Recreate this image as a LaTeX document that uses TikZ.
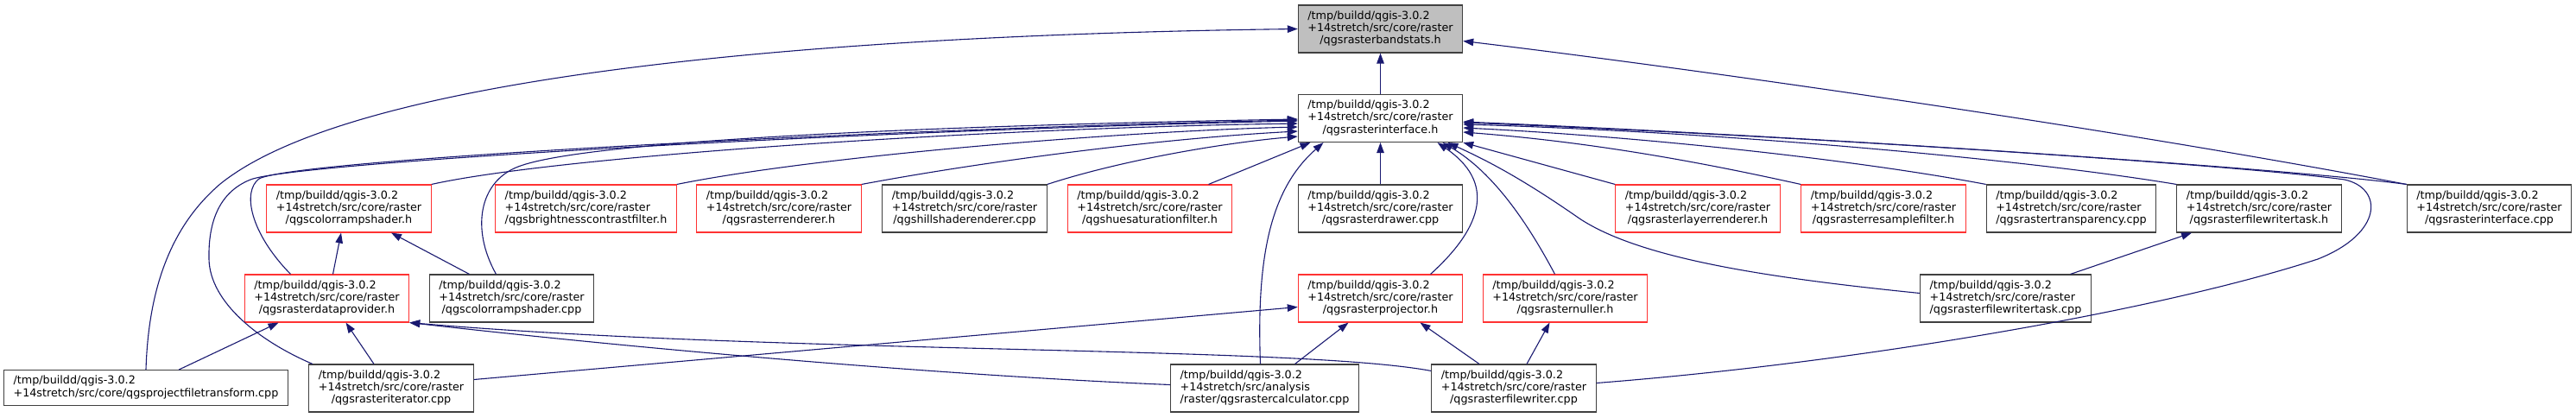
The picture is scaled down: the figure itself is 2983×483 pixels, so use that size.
\documentclass[tikz,border=0pt]{standalone}
\usepackage{fontspec}
\setmainfont{DejaVu Sans}
\usetikzlibrary{arrows.meta}
\definecolor{midblue}{RGB}{25,25,112}
\definecolor{nodeline}{RGB}{64,64,64}
\definecolor{truncred}{RGB}{255,50,50}
\definecolor{selgray}{RGB}{191,191,191}

% three-line doxygen label: two left lines, last one centred
\newcommand{\flab}[3]{\begin{tabular}{@{}l@{}}#1\\#2\\\multicolumn{1}{@{}c@{}}{#3}\end{tabular}}
\newcommand{\flabii}[2]{\begin{tabular}{@{}l@{}}#1\\\multicolumn{1}{@{}c@{}}{#2}\end{tabular}}
\newcommand{\tq}{/tmp/buildd/qgis-3.0.2}
\newcommand{\sr}{+14stretch/src/core/raster}

\tikzset{
  file/.style={draw=nodeline, line width=1.1pt, fill=white, inner xsep=11pt, inner ysep=6pt,
               font=\fontsize{12.75pt}{14.33pt}\selectfont},
  trunc/.style={file, draw=truncred},
  sel/.style={file, fill=selgray},
  incl/.style={draw=midblue, line width=1.1pt, -{Triangle[length=12pt,width=8.5pt]}}
}

\begin{document}
\begin{tikzpicture}[x=1pt,y=-1pt]
\useasboundingbox (0,0) rectangle (2983,483);

%---------------------------------------
% Files
%---------------------------------------
\node[sel] (bandstats) at (1598.5,33.5) {\flab{\tq}{\sr}{/qgsrasterbandstats.h}};
\node[file] (ifaceh) at (1598.5,137) {\flab{\tq}{\sr}{/qgsrasterinterface.h}};

% row 1
\node[trunc] (crsh)     at (404,241.5)    {\flab{\tq}{\sr}{/qgscolorrampshader.h}};
\node[trunc] (bcf)      at (678.5,241.5)  {\flab{\tq}{\sr}{/qgsbrightnesscontrastfilter.h}};
\node[trunc] (rrend)    at (902,241.5)    {\flab{\tq}{\sr}{/qgsrasterrenderer.h}};
\node[file]  (hill)     at (1117,241.5)   {\flab{\tq}{\sr}{/qgshillshaderenderer.cpp}};
\node[trunc] (hue)      at (1331.5,241.5) {\flab{\tq}{\sr}{/qgshuesaturationfilter.h}};
\node[file]  (drawer)   at (1598.5,241.5) {\flab{\tq}{\sr}{/qgsrasterdrawer.cpp}};
\node[trunc] (lrend)    at (1966,241.5)   {\flab{\tq}{\sr}{/qgsrasterlayerrenderer.h}};
\node[trunc] (resamp)   at (2181,241.5)   {\flab{\tq}{\sr}{/qgsrasterresamplefilter.h}};
\node[file]  (transp)   at (2398.5,241.5) {\flab{\tq}{\sr}{/qgsrastertransparency.cpp}};
\node[file]  (fwth)     at (2616,241.5)   {\flab{\tq}{\sr}{/qgsrasterfilewritertask.h}};
\node[file]  (ifacecpp) at (2882.5,241.5) {\flab{\tq}{\sr}{/qgsrasterinterface.cpp}};

% row 2
\node[trunc] (dprov)  at (378.5,345.5)  {\flab{\tq}{\sr}{/qgsrasterdataprovider.h}};
\node[file]  (crscpp) at (592.5,345.5)  {\flab{\tq}{\sr}{/qgscolorrampshader.cpp}};
\node[trunc] (proj)   at (1598.5,345.5) {\flab{\tq}{\sr}{/qgsrasterprojector.h}};
\node[trunc] (nuller) at (1812.5,345.5) {\flab{\tq}{\sr}{/qgsrasternuller.h}};
\node[file]  (fwtcpp) at (2322.5,345.5) {\flab{\tq}{\sr}{/qgsrasterfilewritertask.cpp}};

% row 3
\node[file] (pft)   at (169,449)    {\flabii{\tq}{+14stretch/src/core/qgsprojectfiletransform.cpp}};
\node[file] (iter)  at (453,449.5)  {\flab{\tq}{\sr}{/qgsrasteriterator.cpp}};
\node[file] (calc)  at (1464.5,449.5) {\flab{\tq}{+14stretch/src/analysis}{/raster/qgsrastercalculator.cpp}};
\node[file] (fwcpp) at (1753,449.5) {\flab{\tq}{\sr}{/qgsrasterfilewriter.cpp}};

%---------------------------------------
% Includes of qgsrasterbandstats.h
%---------------------------------------
\draw[incl] (ifaceh) -- (bandstats);
\draw[incl] (pft.north) .. controls (172,330) and (200,260) .. (255,213)
            .. controls (420,80) and (1000,40) .. (bandstats.west);
\draw[incl] (ifacecpp.north west) .. controls (2400,140) and (1900,72) .. ([yshift=-14pt]bandstats.east);

%---------------------------------------
% Includes of qgsrasterinterface.h
%---------------------------------------
% from the left
\draw[incl] ([xshift=-18pt]crscpp.north) .. controls (545,265) and (555,210) .. (600,193)
            .. controls (680,162) and (1100,145) .. ([yshift=-1pt]ifaceh.west);
\draw[incl] ([xshift=-42pt]dprov.north) .. controls (290,270) and (280,222) .. (300,207)
            .. controls (340,185) and (1000,150) .. ([yshift=-2pt]ifaceh.west);
\draw[incl] ([xshift=-91pt]iter.north) .. controls (300,395) and (243,350) .. (242,300)
            .. controls (241,255) and (255,222) .. (290,208)
            .. controls (340,188) and (1000,151) .. ([yshift=-3pt]ifaceh.west);
\draw[incl] (crsh.north east) .. controls (650,180) and (1150,148) .. ([yshift=-6pt]ifaceh.west);
\draw[incl] (bcf.north east) .. controls (950,180) and (1300,152) .. ([yshift=-10pt]ifaceh.west);
\draw[incl] (rrend.north east) .. controls (1150,185) and (1350,160) .. ([yshift=-15pt]ifaceh.west);
\draw[incl] (hill.north east) .. controls (1300,185) and (1420,165) .. ([yshift=-21pt]ifaceh.west);

% from below
\draw[incl] ([xshift=68pt]hue.north) -- ([xshift=-81pt]ifaceh.south);
\draw[incl] ([xshift=-5pt]calc.north) .. controls (1455,300) and (1470,220) .. ([xshift=-66pt]ifaceh.south);
\draw[incl] (drawer) -- (ifaceh);
\draw[incl] ([xshift=58pt]proj.north) .. controls (1720,260) and (1730,210) .. ([xshift=66pt]ifaceh.south);
\draw[incl] ([xshift=-12pt]nuller.north) .. controls (1770,260) and (1730,200) .. ([xshift=72pt]ifaceh.south);
\draw[incl] ([yshift=6pt]fwtcpp.west) .. controls (2050,322) and (1900,300) .. (1829,253)
            .. controls (1760,205) and (1720,185) .. ([xshift=78pt]ifaceh.south);

% from the right
\draw[incl] (lrend.north west) -- (ifaceh.south east);
\draw[incl] (resamp.north west) .. controls (1980,190) and (1850,165) .. ([yshift=-16pt]ifaceh.east);
\draw[incl] (transp.north west) .. controls (2150,185) and (1900,158) .. ([yshift=-11pt]ifaceh.east);
\draw[incl] (fwth.north west) .. controls (2350,185) and (2000,153) .. ([yshift=-7pt]ifaceh.east);
\draw[incl] (ifacecpp.north west) .. controls (2650,195) and (2100,158) .. ([yshift=-4pt]ifaceh.east);
\draw[incl] ([yshift=6pt]fwcpp.east) .. controls (2150,420) and (2500,360) .. (2684,300)
            .. controls (2760,270) and (2760,218) .. (2715,208)
            .. controls (2600,192) and (2100,158) .. ([yshift=-5pt]ifaceh.east);

%---------------------------------------
% Lower includes
%---------------------------------------
\draw[incl] ([xshift=7pt]dprov.north) -- ([xshift=-9pt]crsh.south);
\draw[incl] ([xshift=-49pt]crscpp.north) -- ([xshift=49pt]crsh.south);
\draw[incl] ([xshift=38pt]pft.north) -- ([xshift=-56pt]dprov.south);
\draw[incl] ([xshift=-20pt]iter.north) -- ([xshift=22pt]dprov.south);
\draw[incl] ([yshift=4pt]calc.west) .. controls (1100,435) and (750,405) .. (dprov.south east);
\draw[incl] ([yshift=-8pt]fwcpp.north west) .. controls (1500,400) and (900,410) .. (dprov.south east);
\draw[incl] ([yshift=10pt]iter.east) -- ([yshift=-10pt]proj.west);
\draw[incl] ([xshift=35pt]calc.north) -- ([xshift=-37pt]proj.south);
\draw[incl] ([xshift=-40pt]fwcpp.north) -- ([xshift=46pt]proj.south);
\draw[incl] ([xshift=15pt]fwcpp.north) -- ([xshift=-18pt]nuller.south);
\draw[incl] ([xshift=75pt]fwtcpp.north) -- ([xshift=-78pt]fwth.south);

\end{tikzpicture}
\end{document}
